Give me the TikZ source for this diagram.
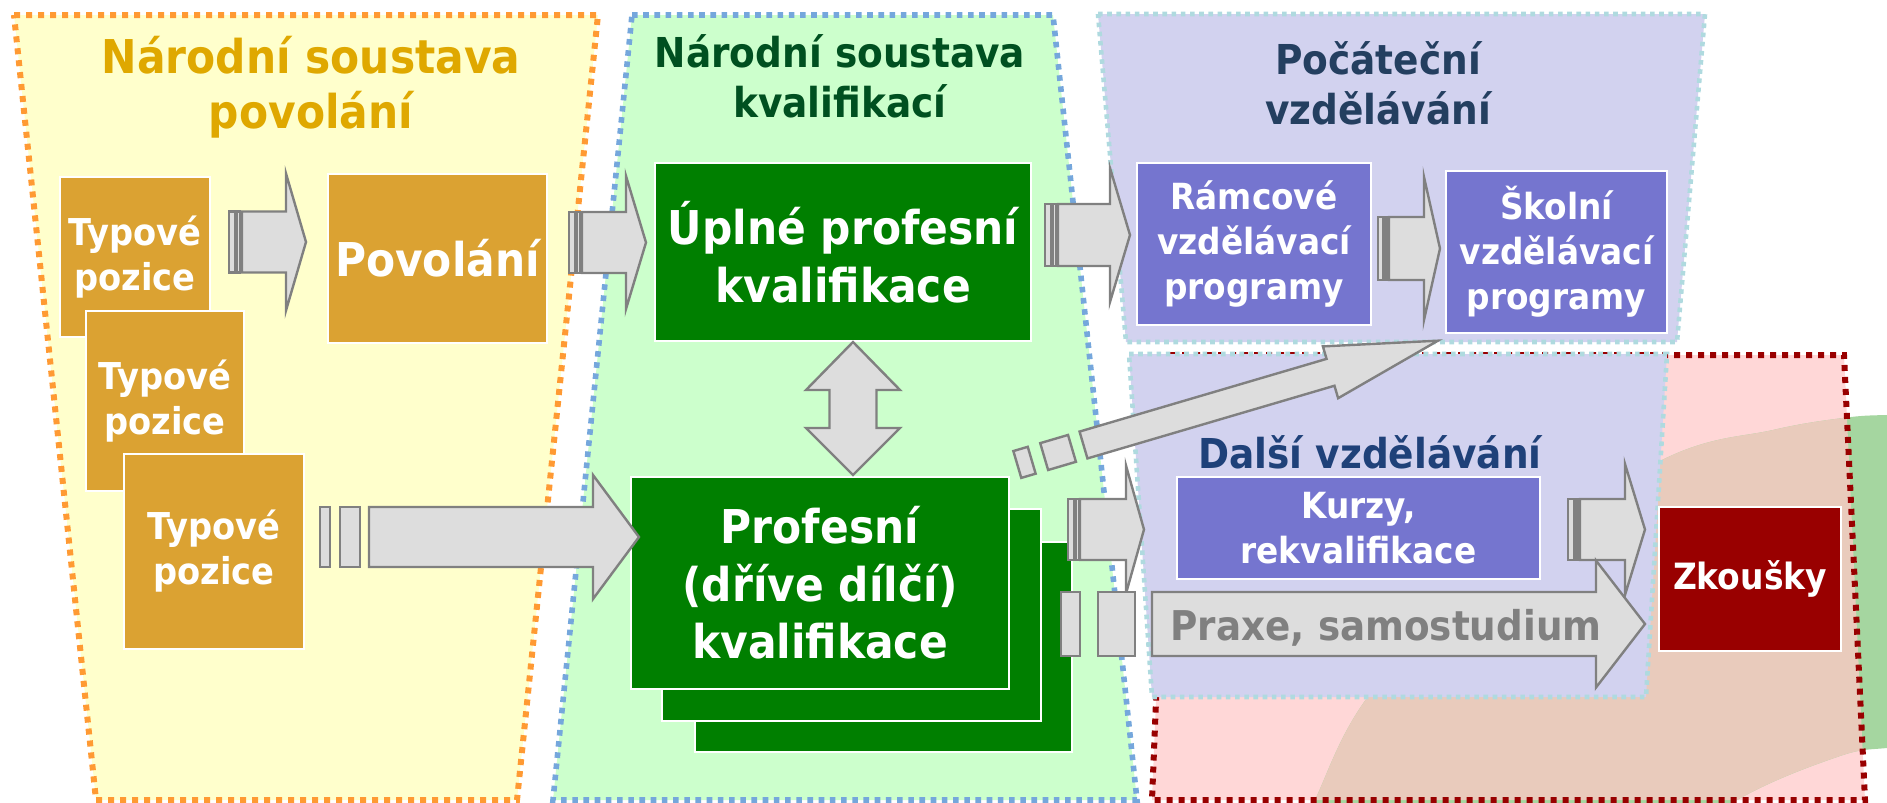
\documentclass[tikz,border=0pt]{standalone}
\usepackage{fontspec}
\setmainfont{DejaVu Sans}[FakeStretch=0.91]
\usetikzlibrary{calc}
\definecolor{povfill}  {HTML}{FFFFCC}
\definecolor{povline}  {HTML}{FF9A33}
\definecolor{povtitle} {HTML}{DFA800}
\definecolor{povgold}  {HTML}{DBA232}
\definecolor{nsqfill}  {HTML}{CCFFCC}
\definecolor{nsqline}  {HTML}{75A7DC}
\definecolor{nsqtitle} {HTML}{005020}
\definecolor{nsqgreen} {HTML}{007F00}
\definecolor{vzfill}   {HTML}{D2D2EF}
\definecolor{vzline}   {HTML}{AFDADF}
\definecolor{vztitle}  {HTML}{243F60}
\definecolor{dvtitle}  {HTML}{1F4179}
\definecolor{vzpurple} {HTML}{7575CF}
\definecolor{zkfill}   {HTML}{FFD7D7}
\definecolor{zkline}   {HTML}{990000}
\definecolor{zkred}    {HTML}{990000}
\definecolor{blobgreen}{HTML}{A5D6A0}
\definecolor{blobmix}  {HTML}{E9CBBC}
\definecolor{arrfill}  {HTML}{DDDDDD}
\definecolor{arrline}  {HTML}{808080}
\tikzset{
  panelline/.style={line width=3pt, dash pattern=on 3pt off 3pt},
  povpanel/.style={panelline, fill=povfill, draw=povline},
  nsqpanel/.style={panelline, line width=2.8pt, dash pattern=on 2.8pt off 2.8pt,
                   fill=nsqfill, draw=nsqline},
  vzpanel/.style={line width=2.3pt, dash pattern=on 2.3pt off 2.3pt, fill=vzfill, draw=vzline},
  zkpanel/.style={panelline, draw=zkline},
  bigtitle/.style={font=\bfseries\fontsize{23.3}{27.5}\selectfont, align=center, inner sep=0pt},
  midtitle/.style={font=\bfseries\fontsize{20.6}{25}\selectfont, align=center, inner sep=0pt},
  box/.style={draw=white, line width=1pt, text=white, align=center, inner sep=0pt},
  typbox/.style={box, fill=povgold, font=\bfseries\fontsize{18.5}{22.5}\selectfont},
  povbox/.style={box, fill=povgold, font=\bfseries\fontsize{23.3}{28}\selectfont},
  nsqbox/.style={box, fill=nsqgreen, font=\bfseries\fontsize{23.3}{28.75}\selectfont},
  vzbox/.style={box, fill=vzpurple, font=\bfseries\fontsize{18}{22.5}\selectfont},
  zkbox/.style={box, fill=zkred, font=\bfseries\fontsize{18.1}{22}\selectfont},
  blockarrow/.style={fill=arrfill, draw=arrline, line width=1.2pt},
}
% block arrow: body x, head x, tip x, centre y, half body, half head
\newcommand{\arrowbody}[6]{%
  \draw[blockarrow] (#1,#4-#5) -- (#2,#4-#5) -- (#2,#4-#6) -- (#3,#4)
    -- (#2,#4+#6) -- (#2,#4+#5) -- (#1,#4+#5) -- cycle;}
% two stripes at the tail: x1, x2, x3, x4, centre y, half body
\newcommand{\arrowstripes}[6]{%
  \draw[blockarrow] (#1,#5-#6) rectangle (#2,#5+#6);
  \draw[blockarrow] (#3,#5-#6) rectangle (#4,#5+#6);}
\begin{document}
\begin{tikzpicture}[x=0.5pt,y=-0.5pt]
  \useasboundingbox (0,0) rectangle (1887,803);
  % panels
  \draw[povpanel] (14,15) -- (598,15) -- (517,800) -- (96,800) -- cycle;
  \draw[nsqpanel] (632,15) -- (1053,15) -- (1137,800) -- (553,800) -- cycle;
  \draw[vzpanel] (1098,14) -- (1705,14) -- (1677,342) -- (1126,342) -- cycle;
  \fill[zkfill] (1170,355) -- (1844,355) -- (1865,800) -- (1152,800) -- cycle;
  \begin{scope}
    \clip (0,0) rectangle (1887,803);
    \fill[blobgreen] plot[smooth cycle, tension=0.6] coordinates {(1290,860) (1315,800)
      (1367,698) (1480,575) (1662,460) (1773,430) (1843,418) (1887,415) (1960,415)
      (2000,580) (1960,745) (1887,748) (1837,757) (1737,800) (1620,880) (1450,900)};
  \end{scope}
  \begin{scope}
    \clip (1170,355) -- (1844,355) -- (1865,800) -- (1152,800) -- cycle;
    \fill[blobmix] plot[smooth cycle, tension=0.6] coordinates {(1290,860) (1315,800)
      (1367,698) (1480,575) (1662,460) (1773,430) (1843,418) (1887,415) (1960,415)
      (2000,580) (1960,745) (1887,748) (1837,757) (1737,800) (1620,880) (1450,900)};
  \end{scope}
  \draw[zkpanel] (1170,355) -- (1844,355) -- (1865,800) -- (1152,800) -- cycle;
  \draw[vzpanel] (1129,354) -- (1667,354) -- (1646,697) -- (1152,697) -- cycle;

  % titles
  \node[bigtitle, text=povtitle] (tpov) at (311,87.5) {Národní soustava\\povolání};
  \node[midtitle, text=nsqtitle] (tnsq) at (840,76.5) {Národní soustava\\kvalifikací};
  \node[midtitle, text=vztitle] (tpv) at (1378,83.5) {Počáteční\\vzdělávání};
  \node[midtitle, text=dvtitle, anchor=base] (tdv) at (1370,468) {Další vzdělávání};

  % boxes
  \node[typbox, minimum width=75pt, minimum height=80pt] (typ1) at (135,257) {Typové\\pozice};
  \node[typbox, minimum width=79pt, minimum height=90pt] (typ2) at (165,401) {Typové\\pozice};
  \node[typbox, minimum width=90pt, minimum height=97.5pt] (typ3) at (214,551.5) {Typové\\pozice};
  \node[povbox, minimum width=109.5pt, minimum height=84.5pt] (pov) at (437.5,258.5) {Povolání};
  \node[nsqbox, minimum width=188pt, minimum height=89pt] (upk) at (843,252) {Úplné profesní\\kvalifikace};
  \node[nsqbox, minimum width=188.5pt, minimum height=105pt] (pk3) at (883.5,647) {};
  \node[nsqbox, minimum width=189.5pt, minimum height=106pt] (pk2) at (851.5,615) {};
  \node[nsqbox, minimum width=189pt, minimum height=106pt] (pk1) at (820,583) {Profesní\\(dříve dílčí)\\kvalifikace};
  \node[vzbox, minimum width=117pt, minimum height=81pt] (rvp) at (1254,244) {Rámcové\\vzdělávací\\programy};
  \node[vzbox, minimum width=110.5pt, minimum height=81pt] (svp) at (1556.5,252) {Školní\\vzdělávací\\programy};
  \node[vzbox, minimum width=181.5pt, minimum height=51pt] (kurzy) at (1358.5,528) {Kurzy,\\rekvalifikace};
  \node[zkbox, minimum width=91pt, minimum height=72pt] (zk) at (1750,579) {Zkoušky};

  % arrows
  \arrowstripes{229}{235}{237}{240}{242}{30.5}
  \arrowbody{242}{286}{306}{242}{30.5}{68.5}
  \arrowstripes{569}{575}{577}{580}{242.5}{30.5}
  \arrowbody{582}{626}{646}{242.5}{30.5}{66.5}
  \arrowstripes{1045}{1051}{1053}{1056}{235}{31}
  \arrowbody{1058}{1110}{1130}{235}{31}{67}
  \arrowstripes{1378}{1383}{1385}{1387}{248.5}{31.5}
  \arrowbody{1389}{1424}{1440}{248.5}{31.5}{71.5}
  \arrowstripes{320}{330}{340}{360}{537}{30}
  \arrowbody{369}{593}{639}{537}{30}{62}
  \draw[blockarrow] (853,342) -- (900,390) -- (876.5,390) -- (876.5,428) -- (900,428)
    -- (853,475) -- (806,428) -- (829.5,428) -- (829.5,390) -- (806,390) -- cycle;
  \begin{scope}[shift={(1083.5,445)}, rotate=16.4]
    \arrowstripes{-69}{-54}{-41}{-12}{0}{14}
    \arrowbody{0}{257.5}{369.5}{0}{14}{27}
  \end{scope}
  \arrowstripes{1068}{1074}{1076}{1079}{529.5}{30.5}
  \arrowbody{1080}{1126}{1144}{529.5}{30.5}{64}
  \arrowstripes{1568}{1574}{1576}{1578}{529.5}{30.5}
  \arrowbody{1580}{1625}{1645}{529.5}{30.5}{65.5}
  \arrowstripes{1061}{1080}{1098}{1135}{624}{32}
  \arrowbody{1152}{1596}{1645}{624}{32}{63.5}
  \node[font=\bfseries\fontsize{20.5}{25}\selectfont, text=arrline, anchor=base, inner sep=0pt]
    (praxe) at (1386,640) {Praxe, samostudium};
\end{tikzpicture}
\end{document}
